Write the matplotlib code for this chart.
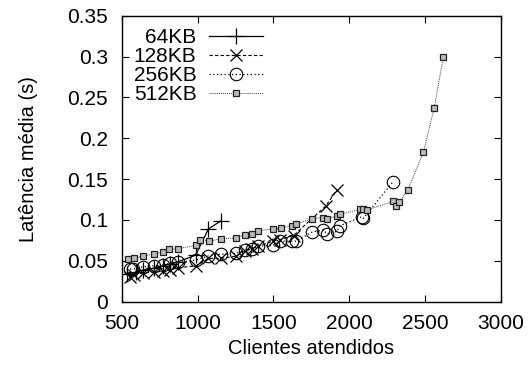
import matplotlib
matplotlib.use("Agg")
import matplotlib.pyplot as plt

# ============================================================
# DATA
# ============================================================

SERIES_LABELS = ["64KB", "128KB", "256KB", "512KB"]

clients_64 = [533, 592, 641, 710, 769, 819, 873, 986, 1070, 1154]
latency_64 = [0.034, 0.036, 0.039, 0.041, 0.044, 0.046, 0.049, 0.057,
              0.089, 0.099]

clients_128 = [553, 577, 636, 710, 769, 819, 873, 989, 1070, 1152, 1251,
               1312, 1357, 1400, 1496, 1544, 1633, 1847, 1918]
latency_128 = [0.030, 0.033, 0.035, 0.0365, 0.037, 0.039, 0.0415, 0.044,
               0.053, 0.053, 0.0555, 0.062, 0.065, 0.068, 0.074, 0.076,
               0.081, 0.1175, 0.137]

clients_256 = [553, 575, 636, 711, 768, 817, 872, 989, 1070, 1152, 1251,
               1312, 1357, 1400, 1496, 1544, 1621, 1650, 1753, 1830, 1852,
               1918, 1940, 2083, 2094, 2290]
latency_256 = [0.040, 0.040, 0.0425, 0.044, 0.045, 0.047, 0.048, 0.051,
               0.056, 0.058, 0.059, 0.063, 0.064, 0.068, 0.069, 0.074,
               0.074, 0.074, 0.085, 0.088, 0.083, 0.086, 0.093, 0.104,
               0.102, 0.147]

clients_512 = [540, 582, 636, 710, 773, 809, 872, 989, 1016, 1075, 1154,
               1251, 1312, 1357, 1400, 1496, 1548, 1621, 1650, 1753, 1830,
               1852, 1922, 1940, 2072, 2090, 2116, 2292, 2310, 2331, 2387,
               2490, 2561, 2622]
latency_512 = [0.052, 0.053, 0.056, 0.058, 0.061, 0.064, 0.065, 0.069,
               0.076, 0.074, 0.077, 0.078, 0.082, 0.083, 0.087, 0.089,
               0.090, 0.093, 0.095, 0.1016, 0.103, 0.1016, 0.105, 0.107,
               0.113, 0.113, 0.112, 0.123, 0.1175, 0.122, 0.137, 0.183,
               0.237, 0.300]

X_TICKS = [500, 1000, 1500, 2000, 2500, 3000]
Y_TICKS = [0, 0.05, 0.1, 0.15, 0.2, 0.25, 0.3, 0.35]
Y_TICK_LABELS = ["0", "0.05", "0.1", "0.15", "0.2", "0.25", "0.3", "0.35"]

# ============================================================
# FIGURE
# ============================================================

plt.rcParams["font.family"] = ["Liberation Sans", "DejaVu Sans"]
plt.rcParams["font.size"] = 15

fig = plt.figure(figsize=(5.29, 3.66), dpi=100)
ax = fig.add_axes([0.2306, 0.1757, 0.7159, 0.7814])

ax.plot(clients_64, latency_64, color="black", linestyle="-",
        linewidth=0.9, marker="+", markersize=11, markeredgewidth=0.9,
        label=SERIES_LABELS[0])

ax.plot(clients_128, latency_128, color="black", linestyle=(0, (3, 2)),
        linewidth=0.8, marker="x", markersize=8, markeredgewidth=0.9,
        label=SERIES_LABELS[1])

ax.plot(clients_256, latency_256, color="black", linestyle=(0, (1, 2)),
        linewidth=0.9, marker="o", markersize=9, markerfacecolor="none",
        markeredgewidth=0.8, label=SERIES_LABELS[2])

ax.plot(clients_512, latency_512, color="#444444", linestyle=(0, (1, 1)),
        linewidth=0.7, marker="s", markersize=4.5, markerfacecolor="#bbbbbb",
        markeredgecolor="#222222", markeredgewidth=0.9,
        label=SERIES_LABELS[3])

# ------------------------------------------------------------
# Axes (gnuplot look)
# ------------------------------------------------------------

ax.set_xlim(500, 3000)
ax.set_ylim(0, 0.35)
ax.set_xticks(X_TICKS)
ax.set_yticks(Y_TICKS)
ax.set_yticklabels(Y_TICK_LABELS)

ax.tick_params(direction="in", top=True, right=True, length=5,
               width=0.8, labelsize=15)
ax.tick_params(axis="x", pad=9)
ax.tick_params(axis="y", pad=10)

for spine in ax.spines.values():
    spine.set_linewidth(1.0)

ax.set_xlabel("Clientes atendidos", fontsize=14.5)
ax.set_ylabel("Latência média (s)", fontsize=14.5)
ax.xaxis.set_label_coords(0.5, -0.13)
ax.yaxis.set_label_coords(-0.222, 0.5)

# ------------------------------------------------------------
# Legend: text first, right aligned (markerfirst=False packs right)
# ------------------------------------------------------------

ax.legend(loc="upper right", bbox_to_anchor=(0.405, 1.0),
          markerfirst=False, frameon=False, handlelength=2.6,
          handletextpad=0.58, labelspacing=0.0, borderaxespad=0.0,
          borderpad=0.6, fontsize=15)

fig.savefig("out.png", dpi=100)
